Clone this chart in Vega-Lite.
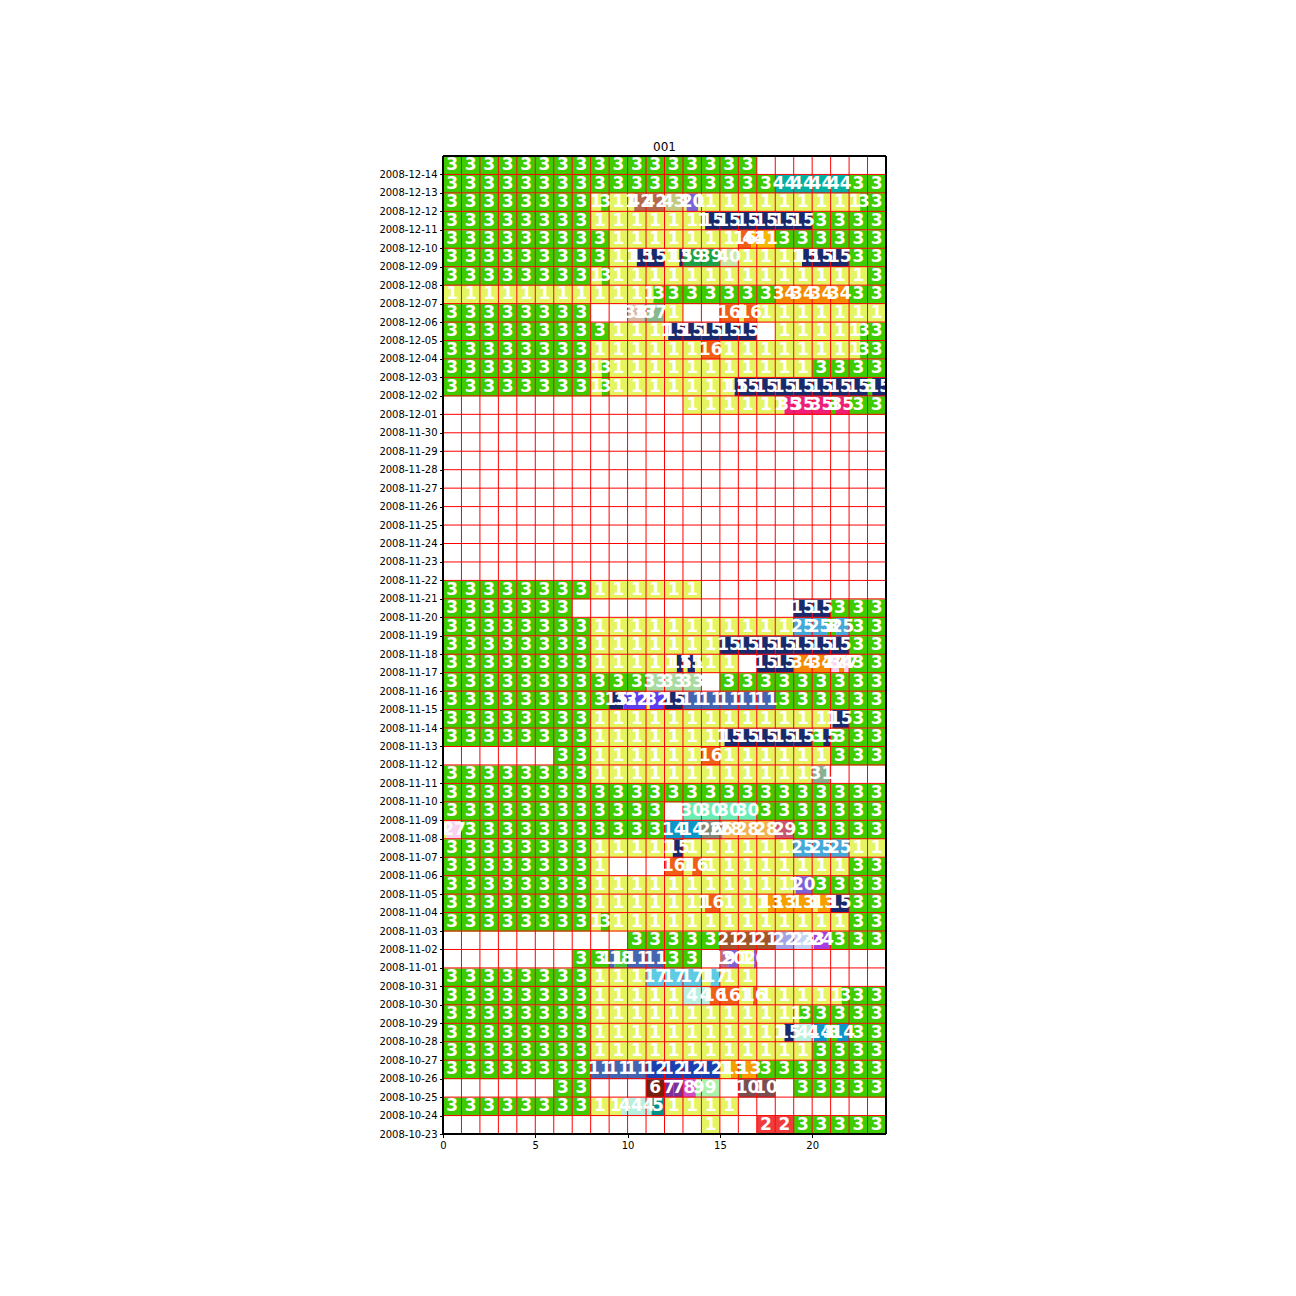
{
"$schema": "https://vega.github.io/schema/vega-lite/v6.json",
"autosize": {"type": "none"},
"padding": {"left": 443, "top": 156, "right": 10, "bottom": 40},
"width": 443,
"height": 978,
"background": "white",
"title": {"text": "001", "font": "DejaVu Sans", "fontSize": 12, "fontWeight": "normal", "color": "#000000", "offset": 4, "dy": 14, "baseline": "bottom", "anchor": "middle", "frame": "group"},
"config": {"view": {"stroke": null}, "font": "DejaVu Sans",
  "axis": {"labelFont": "DejaVu Sans", "labelFontSize": 10, "labelColor": "#000000", "tickColor": "#000000", "tickSize": 3.5, "tickWidth": 1, "domain": false, "grid": false, "labelFlush": false, "labelOverlap": false}},
"datasets": {
"chunks": [
{"d":"2008-12-14","s":0,"e":1,"m":0.5,"c":3},{"d":"2008-12-14","s":1,"e":2,"m":1.5,"c":3},{"d":"2008-12-14","s":2,"e":3,"m":2.5,"c":3},{"d":"2008-12-14","s":3,"e":4,"m":3.5,"c":3},{"d":"2008-12-14","s":4,"e":5,"m":4.5,"c":3},{"d":"2008-12-14","s":5,"e":6,"m":5.5,"c":3},{"d":"2008-12-14","s":6,"e":7,"m":6.5,"c":3},{"d":"2008-12-14","s":7,"e":8,"m":7.5,"c":3},{"d":"2008-12-14","s":8,"e":9,"m":8.5,"c":3},{"d":"2008-12-14","s":9,"e":10,"m":9.5,"c":3},{"d":"2008-12-14","s":10,"e":11,"m":10.5,"c":3},{"d":"2008-12-14","s":11,"e":12,"m":11.5,"c":3},{"d":"2008-12-14","s":12,"e":13,"m":12.5,"c":3},{"d":"2008-12-14","s":13,"e":14,"m":13.5,"c":3},{"d":"2008-12-14","s":14,"e":15,"m":14.5,"c":3},{"d":"2008-12-14","s":15,"e":16,"m":15.5,"c":3},{"d":"2008-12-14","s":16,"e":17,"m":16.5,"c":3},
{"d":"2008-12-13","s":0,"e":1,"m":0.5,"c":3},{"d":"2008-12-13","s":1,"e":2,"m":1.5,"c":3},{"d":"2008-12-13","s":2,"e":3,"m":2.5,"c":3},{"d":"2008-12-13","s":3,"e":4,"m":3.5,"c":3},{"d":"2008-12-13","s":4,"e":5,"m":4.5,"c":3},{"d":"2008-12-13","s":5,"e":6,"m":5.5,"c":3},{"d":"2008-12-13","s":6,"e":7,"m":6.5,"c":3},{"d":"2008-12-13","s":7,"e":8,"m":7.5,"c":3},{"d":"2008-12-13","s":8,"e":9,"m":8.5,"c":3},{"d":"2008-12-13","s":9,"e":10,"m":9.5,"c":3},{"d":"2008-12-13","s":10,"e":11,"m":10.5,"c":3},{"d":"2008-12-13","s":11,"e":12,"m":11.5,"c":3},{"d":"2008-12-13","s":12,"e":13,"m":12.5,"c":3},{"d":"2008-12-13","s":13,"e":14,"m":13.5,"c":3},{"d":"2008-12-13","s":14,"e":15,"m":14.5,"c":3},{"d":"2008-12-13","s":15,"e":16,"m":15.5,"c":3},{"d":"2008-12-13","s":16,"e":17,"m":16.5,"c":3},{"d":"2008-12-13","s":17,"e":18,"m":17.5,"c":3},{"d":"2008-12-13","s":18,"e":19,"m":18.5,"c":44},{"d":"2008-12-13","s":19,"e":20,"m":19.5,"c":44},{"d":"2008-12-13","s":20,"e":21,"m":20.5,"c":44},{"d":"2008-12-13","s":21,"e":22,"m":21.5,"c":44},{"d":"2008-12-13","s":22,"e":23,"m":22.5,"c":3},{"d":"2008-12-13","s":23,"e":24,"m":23.5,"c":3},
{"d":"2008-12-12","s":0,"e":1,"m":0.5,"c":3},{"d":"2008-12-12","s":1,"e":2,"m":1.5,"c":3},{"d":"2008-12-12","s":2,"e":3,"m":2.5,"c":3},{"d":"2008-12-12","s":3,"e":4,"m":3.5,"c":3},{"d":"2008-12-12","s":4,"e":5,"m":4.5,"c":3},{"d":"2008-12-12","s":5,"e":6,"m":5.5,"c":3},{"d":"2008-12-12","s":6,"e":7,"m":6.5,"c":3},{"d":"2008-12-12","s":7,"e":8,"m":7.5,"c":3},{"d":"2008-12-12","s":8,"e":8.57,"m":8.29,"c":1},{"d":"2008-12-12","s":8.57,"e":9,"m":8.79,"c":3},{"d":"2008-12-12","s":9,"e":10,"m":9.5,"c":1},{"d":"2008-12-12","s":10,"e":10.36,"m":10.18,"c":1},{"d":"2008-12-12","s":10.36,"e":11,"m":10.68,"c":42},{"d":"2008-12-12","s":11,"e":12,"m":11.5,"c":42},{"d":"2008-12-12","s":12,"e":13,"m":12.5,"c":43},{"d":"2008-12-12","s":13,"e":13.2,"m":13.1,"c":1},{"d":"2008-12-12","s":13.2,"e":13.83,"m":13.52,"c":20},{"d":"2008-12-12","s":13.83,"e":14,"m":13.92,"c":1},{"d":"2008-12-12","s":14,"e":15,"m":14.5,"c":1},{"d":"2008-12-12","s":15,"e":16,"m":15.5,"c":1},{"d":"2008-12-12","s":16,"e":17,"m":16.5,"c":1},{"d":"2008-12-12","s":17,"e":18,"m":17.5,"c":1},{"d":"2008-12-12","s":18,"e":19,"m":18.5,"c":1},{"d":"2008-12-12","s":19,"e":20,"m":19.5,"c":1},{"d":"2008-12-12","s":20,"e":21,"m":20.5,"c":1},{"d":"2008-12-12","s":21,"e":22,"m":21.5,"c":1},{"d":"2008-12-12","s":22,"e":22.6,"m":22.3,"c":1},{"d":"2008-12-12","s":22.6,"e":23,"m":22.8,"c":3},{"d":"2008-12-12","s":23,"e":24,"m":23.5,"c":3},
{"d":"2008-12-11","s":0,"e":1,"m":0.5,"c":3},{"d":"2008-12-11","s":1,"e":2,"m":1.5,"c":3},{"d":"2008-12-11","s":2,"e":3,"m":2.5,"c":3},{"d":"2008-12-11","s":3,"e":4,"m":3.5,"c":3},{"d":"2008-12-11","s":4,"e":5,"m":4.5,"c":3},{"d":"2008-12-11","s":5,"e":6,"m":5.5,"c":3},{"d":"2008-12-11","s":6,"e":7,"m":6.5,"c":3},{"d":"2008-12-11","s":7,"e":8,"m":7.5,"c":3},{"d":"2008-12-11","s":8,"e":9,"m":8.5,"c":1},{"d":"2008-12-11","s":9,"e":10,"m":9.5,"c":1},{"d":"2008-12-11","s":10,"e":11,"m":10.5,"c":1},{"d":"2008-12-11","s":11,"e":12,"m":11.5,"c":1},{"d":"2008-12-11","s":12,"e":13,"m":12.5,"c":1},{"d":"2008-12-11","s":13,"e":14,"m":13.5,"c":1},{"d":"2008-12-11","s":14,"e":14.2,"m":14.1,"c":1},{"d":"2008-12-11","s":14.2,"e":15,"m":14.6,"c":15},{"d":"2008-12-11","s":15,"e":16,"m":15.5,"c":15},{"d":"2008-12-11","s":16,"e":17,"m":16.5,"c":15},{"d":"2008-12-11","s":17,"e":18,"m":17.5,"c":15},{"d":"2008-12-11","s":18,"e":19,"m":18.5,"c":15},{"d":"2008-12-11","s":19,"e":20,"m":19.5,"c":15},{"d":"2008-12-11","s":20,"e":21,"m":20.5,"c":3},{"d":"2008-12-11","s":21,"e":22,"m":21.5,"c":3},{"d":"2008-12-11","s":22,"e":23,"m":22.5,"c":3},{"d":"2008-12-11","s":23,"e":24,"m":23.5,"c":3},
{"d":"2008-12-10","s":0,"e":1,"m":0.5,"c":3},{"d":"2008-12-10","s":1,"e":2,"m":1.5,"c":3},{"d":"2008-12-10","s":2,"e":3,"m":2.5,"c":3},{"d":"2008-12-10","s":3,"e":4,"m":3.5,"c":3},{"d":"2008-12-10","s":4,"e":5,"m":4.5,"c":3},{"d":"2008-12-10","s":5,"e":6,"m":5.5,"c":3},{"d":"2008-12-10","s":6,"e":7,"m":6.5,"c":3},{"d":"2008-12-10","s":7,"e":8,"m":7.5,"c":3},{"d":"2008-12-10","s":8,"e":9,"m":8.5,"c":3},{"d":"2008-12-10","s":9,"e":10,"m":9.5,"c":1},{"d":"2008-12-10","s":10,"e":11,"m":10.5,"c":1},{"d":"2008-12-10","s":11,"e":12,"m":11.5,"c":1},{"d":"2008-12-10","s":12,"e":13,"m":12.5,"c":1},{"d":"2008-12-10","s":13,"e":14,"m":13.5,"c":1},{"d":"2008-12-10","s":14,"e":15,"m":14.5,"c":1},{"d":"2008-12-10","s":15,"e":16,"m":15.5,"c":1},{"d":"2008-12-10","s":16,"e":16.7,"m":16.35,"c":16},{"d":"2008-12-10","s":16.7,"e":17,"m":16.85,"c":41},{"d":"2008-12-10","s":17,"e":18,"m":17.5,"c":41},{"d":"2008-12-10","s":18,"e":19,"m":18.5,"c":3},{"d":"2008-12-10","s":19,"e":20,"m":19.5,"c":3},{"d":"2008-12-10","s":20,"e":21,"m":20.5,"c":3},{"d":"2008-12-10","s":21,"e":22,"m":21.5,"c":3},{"d":"2008-12-10","s":22,"e":23,"m":22.5,"c":3},{"d":"2008-12-10","s":23,"e":24,"m":23.5,"c":3},
{"d":"2008-12-09","s":0,"e":1,"m":0.5,"c":3},{"d":"2008-12-09","s":1,"e":2,"m":1.5,"c":3},{"d":"2008-12-09","s":2,"e":3,"m":2.5,"c":3},{"d":"2008-12-09","s":3,"e":4,"m":3.5,"c":3},{"d":"2008-12-09","s":4,"e":5,"m":4.5,"c":3},{"d":"2008-12-09","s":5,"e":6,"m":5.5,"c":3},{"d":"2008-12-09","s":6,"e":7,"m":6.5,"c":3},{"d":"2008-12-09","s":7,"e":8,"m":7.5,"c":3},{"d":"2008-12-09","s":8,"e":9,"m":8.5,"c":3},{"d":"2008-12-09","s":9,"e":10,"m":9.5,"c":1},{"d":"2008-12-09","s":10,"e":10.5,"m":10.25,"c":1},{"d":"2008-12-09","s":10.5,"e":11,"m":10.75,"c":15},{"d":"2008-12-09","s":11,"e":12,"m":11.5,"c":15},{"d":"2008-12-09","s":12,"e":12.8,"m":12.4,"c":1},{"d":"2008-12-09","s":12.8,"e":13,"m":12.9,"c":15},{"d":"2008-12-09","s":13,"e":14,"m":13.5,"c":39},{"d":"2008-12-09","s":14,"e":15,"m":14.5,"c":39},{"d":"2008-12-09","s":15,"e":16,"m":15.5,"c":40},{"d":"2008-12-09","s":16,"e":17,"m":16.5,"c":1},{"d":"2008-12-09","s":17,"e":18,"m":17.5,"c":1},{"d":"2008-12-09","s":18,"e":19,"m":18.5,"c":1},{"d":"2008-12-09","s":19,"e":19.45,"m":19.23,"c":1},{"d":"2008-12-09","s":19.45,"e":20,"m":19.73,"c":15},{"d":"2008-12-09","s":20,"e":21,"m":20.5,"c":15},{"d":"2008-12-09","s":21,"e":22,"m":21.5,"c":15},{"d":"2008-12-09","s":22,"e":23,"m":22.5,"c":3},{"d":"2008-12-09","s":23,"e":24,"m":23.5,"c":3},
{"d":"2008-12-08","s":0,"e":1,"m":0.5,"c":3},{"d":"2008-12-08","s":1,"e":2,"m":1.5,"c":3},{"d":"2008-12-08","s":2,"e":3,"m":2.5,"c":3},{"d":"2008-12-08","s":3,"e":4,"m":3.5,"c":3},{"d":"2008-12-08","s":4,"e":5,"m":4.5,"c":3},{"d":"2008-12-08","s":5,"e":6,"m":5.5,"c":3},{"d":"2008-12-08","s":6,"e":7,"m":6.5,"c":3},{"d":"2008-12-08","s":7,"e":8,"m":7.5,"c":3},{"d":"2008-12-08","s":8,"e":8.6,"m":8.3,"c":1},{"d":"2008-12-08","s":8.6,"e":9,"m":8.8,"c":3},{"d":"2008-12-08","s":9,"e":10,"m":9.5,"c":1},{"d":"2008-12-08","s":10,"e":11,"m":10.5,"c":1},{"d":"2008-12-08","s":11,"e":12,"m":11.5,"c":1},{"d":"2008-12-08","s":12,"e":13,"m":12.5,"c":1},{"d":"2008-12-08","s":13,"e":14,"m":13.5,"c":1},{"d":"2008-12-08","s":14,"e":15,"m":14.5,"c":1},{"d":"2008-12-08","s":15,"e":16,"m":15.5,"c":1},{"d":"2008-12-08","s":16,"e":17,"m":16.5,"c":1},{"d":"2008-12-08","s":17,"e":18,"m":17.5,"c":1},{"d":"2008-12-08","s":18,"e":19,"m":18.5,"c":1},{"d":"2008-12-08","s":19,"e":20,"m":19.5,"c":1},{"d":"2008-12-08","s":20,"e":21,"m":20.5,"c":1},{"d":"2008-12-08","s":21,"e":22,"m":21.5,"c":1},{"d":"2008-12-08","s":22,"e":23,"m":22.5,"c":1},{"d":"2008-12-08","s":23,"e":24,"m":23.5,"c":3},
{"d":"2008-12-07","s":0,"e":1,"m":0.5,"c":1},{"d":"2008-12-07","s":1,"e":2,"m":1.5,"c":1},{"d":"2008-12-07","s":2,"e":3,"m":2.5,"c":1},{"d":"2008-12-07","s":3,"e":4,"m":3.5,"c":1},{"d":"2008-12-07","s":4,"e":5,"m":4.5,"c":1},{"d":"2008-12-07","s":5,"e":6,"m":5.5,"c":1},{"d":"2008-12-07","s":6,"e":7,"m":6.5,"c":1},{"d":"2008-12-07","s":7,"e":8,"m":7.5,"c":1},{"d":"2008-12-07","s":8,"e":9,"m":8.5,"c":1},{"d":"2008-12-07","s":9,"e":10,"m":9.5,"c":1},{"d":"2008-12-07","s":10,"e":11,"m":10.5,"c":1},{"d":"2008-12-07","s":11,"e":11.4,"m":11.2,"c":1},{"d":"2008-12-07","s":11.4,"e":12,"m":11.7,"c":3},{"d":"2008-12-07","s":12,"e":13,"m":12.5,"c":3},{"d":"2008-12-07","s":13,"e":14,"m":13.5,"c":3},{"d":"2008-12-07","s":14,"e":15,"m":14.5,"c":3},{"d":"2008-12-07","s":15,"e":16,"m":15.5,"c":3},{"d":"2008-12-07","s":16,"e":17,"m":16.5,"c":3},{"d":"2008-12-07","s":17,"e":18,"m":17.5,"c":3},{"d":"2008-12-07","s":18,"e":19,"m":18.5,"c":34},{"d":"2008-12-07","s":19,"e":20,"m":19.5,"c":34},{"d":"2008-12-07","s":20,"e":21,"m":20.5,"c":34},{"d":"2008-12-07","s":21,"e":22,"m":21.5,"c":34},{"d":"2008-12-07","s":22,"e":23,"m":22.5,"c":3},{"d":"2008-12-07","s":23,"e":24,"m":23.5,"c":3},
{"d":"2008-12-06","s":0,"e":1,"m":0.5,"c":3},{"d":"2008-12-06","s":1,"e":2,"m":1.5,"c":3},{"d":"2008-12-06","s":2,"e":3,"m":2.5,"c":3},{"d":"2008-12-06","s":3,"e":4,"m":3.5,"c":3},{"d":"2008-12-06","s":4,"e":5,"m":4.5,"c":3},{"d":"2008-12-06","s":5,"e":6,"m":5.5,"c":3},{"d":"2008-12-06","s":6,"e":7,"m":6.5,"c":3},{"d":"2008-12-06","s":7,"e":8,"m":7.5,"c":3},{"d":"2008-12-06","s":10,"e":10.9,"m":10.45,"c":38},{"d":"2008-12-06","s":10.9,"e":11,"m":10.95,"c":37},{"d":"2008-12-06","s":11,"e":12,"m":11.5,"c":37},{"d":"2008-12-06","s":12,"e":13,"m":12.5,"c":1},{"d":"2008-12-06","s":15,"e":16,"m":15.5,"c":16},{"d":"2008-12-06","s":16,"e":16.3,"m":16.15,"c":1},{"d":"2008-12-06","s":16.3,"e":17,"m":16.65,"c":16},{"d":"2008-12-06","s":17,"e":18,"m":17.5,"c":1},{"d":"2008-12-06","s":18,"e":19,"m":18.5,"c":1},{"d":"2008-12-06","s":19,"e":20,"m":19.5,"c":1},{"d":"2008-12-06","s":20,"e":21,"m":20.5,"c":1},{"d":"2008-12-06","s":21,"e":22,"m":21.5,"c":1},{"d":"2008-12-06","s":22,"e":23,"m":22.5,"c":1},{"d":"2008-12-06","s":23,"e":24,"m":23.5,"c":1},
{"d":"2008-12-05","s":0,"e":1,"m":0.5,"c":3},{"d":"2008-12-05","s":1,"e":2,"m":1.5,"c":3},{"d":"2008-12-05","s":2,"e":3,"m":2.5,"c":3},{"d":"2008-12-05","s":3,"e":4,"m":3.5,"c":3},{"d":"2008-12-05","s":4,"e":5,"m":4.5,"c":3},{"d":"2008-12-05","s":5,"e":6,"m":5.5,"c":3},{"d":"2008-12-05","s":6,"e":7,"m":6.5,"c":3},{"d":"2008-12-05","s":7,"e":8,"m":7.5,"c":3},{"d":"2008-12-05","s":8,"e":9,"m":8.5,"c":3},{"d":"2008-12-05","s":9,"e":10,"m":9.5,"c":1},{"d":"2008-12-05","s":10,"e":11,"m":10.5,"c":1},{"d":"2008-12-05","s":11,"e":12,"m":11.5,"c":1},{"d":"2008-12-05","s":12,"e":12.2,"m":12.1,"c":1},{"d":"2008-12-05","s":12.2,"e":13,"m":12.6,"c":15},{"d":"2008-12-05","s":13,"e":14,"m":13.5,"c":15},{"d":"2008-12-05","s":14,"e":15,"m":14.5,"c":15},{"d":"2008-12-05","s":15,"e":16,"m":15.5,"c":15},{"d":"2008-12-05","s":16,"e":17,"m":16.5,"c":15},{"d":"2008-12-05","s":18,"e":19,"m":18.5,"c":1},{"d":"2008-12-05","s":19,"e":20,"m":19.5,"c":1},{"d":"2008-12-05","s":20,"e":21,"m":20.5,"c":1},{"d":"2008-12-05","s":21,"e":22,"m":21.5,"c":1},{"d":"2008-12-05","s":22,"e":22.6,"m":22.3,"c":1},{"d":"2008-12-05","s":22.6,"e":23,"m":22.8,"c":3},{"d":"2008-12-05","s":23,"e":24,"m":23.5,"c":3},
{"d":"2008-12-04","s":0,"e":1,"m":0.5,"c":3},{"d":"2008-12-04","s":1,"e":2,"m":1.5,"c":3},{"d":"2008-12-04","s":2,"e":3,"m":2.5,"c":3},{"d":"2008-12-04","s":3,"e":4,"m":3.5,"c":3},{"d":"2008-12-04","s":4,"e":5,"m":4.5,"c":3},{"d":"2008-12-04","s":5,"e":6,"m":5.5,"c":3},{"d":"2008-12-04","s":6,"e":7,"m":6.5,"c":3},{"d":"2008-12-04","s":7,"e":8,"m":7.5,"c":3},{"d":"2008-12-04","s":8,"e":9,"m":8.5,"c":1},{"d":"2008-12-04","s":9,"e":10,"m":9.5,"c":1},{"d":"2008-12-04","s":10,"e":11,"m":10.5,"c":1},{"d":"2008-12-04","s":11,"e":12,"m":11.5,"c":1},{"d":"2008-12-04","s":12,"e":13,"m":12.5,"c":1},{"d":"2008-12-04","s":13,"e":14,"m":13.5,"c":1},{"d":"2008-12-04","s":14,"e":15,"m":14.5,"c":16},{"d":"2008-12-04","s":15,"e":16,"m":15.5,"c":1},{"d":"2008-12-04","s":16,"e":17,"m":16.5,"c":1},{"d":"2008-12-04","s":17,"e":18,"m":17.5,"c":1},{"d":"2008-12-04","s":18,"e":19,"m":18.5,"c":1},{"d":"2008-12-04","s":19,"e":20,"m":19.5,"c":1},{"d":"2008-12-04","s":20,"e":21,"m":20.5,"c":1},{"d":"2008-12-04","s":21,"e":22,"m":21.5,"c":1},{"d":"2008-12-04","s":22,"e":22.6,"m":22.3,"c":1},{"d":"2008-12-04","s":22.6,"e":23,"m":22.8,"c":3},{"d":"2008-12-04","s":23,"e":24,"m":23.5,"c":3},
{"d":"2008-12-03","s":0,"e":1,"m":0.5,"c":3},{"d":"2008-12-03","s":1,"e":2,"m":1.5,"c":3},{"d":"2008-12-03","s":2,"e":3,"m":2.5,"c":3},{"d":"2008-12-03","s":3,"e":4,"m":3.5,"c":3},{"d":"2008-12-03","s":4,"e":5,"m":4.5,"c":3},{"d":"2008-12-03","s":5,"e":6,"m":5.5,"c":3},{"d":"2008-12-03","s":6,"e":7,"m":6.5,"c":3},{"d":"2008-12-03","s":7,"e":8,"m":7.5,"c":3},{"d":"2008-12-03","s":8,"e":8.6,"m":8.3,"c":1},{"d":"2008-12-03","s":8.6,"e":9,"m":8.8,"c":3},{"d":"2008-12-03","s":9,"e":10,"m":9.5,"c":1},{"d":"2008-12-03","s":10,"e":11,"m":10.5,"c":1},{"d":"2008-12-03","s":11,"e":12,"m":11.5,"c":1},{"d":"2008-12-03","s":12,"e":13,"m":12.5,"c":1},{"d":"2008-12-03","s":13,"e":14,"m":13.5,"c":1},{"d":"2008-12-03","s":14,"e":15,"m":14.5,"c":1},{"d":"2008-12-03","s":15,"e":16,"m":15.5,"c":1},{"d":"2008-12-03","s":16,"e":17,"m":16.5,"c":1},{"d":"2008-12-03","s":17,"e":18,"m":17.5,"c":1},{"d":"2008-12-03","s":18,"e":19,"m":18.5,"c":1},{"d":"2008-12-03","s":19,"e":20,"m":19.5,"c":1},{"d":"2008-12-03","s":20,"e":21,"m":20.5,"c":3},{"d":"2008-12-03","s":21,"e":22,"m":21.5,"c":3},{"d":"2008-12-03","s":22,"e":23,"m":22.5,"c":3},{"d":"2008-12-03","s":23,"e":24,"m":23.5,"c":3},
{"d":"2008-12-02","s":0,"e":1,"m":0.5,"c":3},{"d":"2008-12-02","s":1,"e":2,"m":1.5,"c":3},{"d":"2008-12-02","s":2,"e":3,"m":2.5,"c":3},{"d":"2008-12-02","s":3,"e":4,"m":3.5,"c":3},{"d":"2008-12-02","s":4,"e":5,"m":4.5,"c":3},{"d":"2008-12-02","s":5,"e":6,"m":5.5,"c":3},{"d":"2008-12-02","s":6,"e":7,"m":6.5,"c":3},{"d":"2008-12-02","s":7,"e":8,"m":7.5,"c":3},{"d":"2008-12-02","s":8,"e":8.6,"m":8.3,"c":1},{"d":"2008-12-02","s":8.6,"e":9,"m":8.8,"c":3},{"d":"2008-12-02","s":9,"e":10,"m":9.5,"c":1},{"d":"2008-12-02","s":10,"e":11,"m":10.5,"c":1},{"d":"2008-12-02","s":11,"e":12,"m":11.5,"c":1},{"d":"2008-12-02","s":12,"e":13,"m":12.5,"c":1},{"d":"2008-12-02","s":13,"e":14,"m":13.5,"c":1},{"d":"2008-12-02","s":14,"e":15,"m":14.5,"c":1},{"d":"2008-12-02","s":15,"e":15.8,"m":15.4,"c":1},{"d":"2008-12-02","s":15.8,"e":16,"m":15.9,"c":15},{"d":"2008-12-02","s":16,"e":17,"m":16.5,"c":15},{"d":"2008-12-02","s":17,"e":18,"m":17.5,"c":15},{"d":"2008-12-02","s":18,"e":19,"m":18.5,"c":15},{"d":"2008-12-02","s":19,"e":20,"m":19.5,"c":15},{"d":"2008-12-02","s":20,"e":21,"m":20.5,"c":15},{"d":"2008-12-02","s":21,"e":22,"m":21.5,"c":15},{"d":"2008-12-02","s":22,"e":23,"m":22.5,"c":15},{"d":"2008-12-02","s":23,"e":23.25,"m":23.13,"c":3},{"d":"2008-12-02","s":23.25,"e":24,"m":23.63,"c":15},
{"d":"2008-12-01","s":13,"e":14,"m":13.5,"c":1},{"d":"2008-12-01","s":14,"e":15,"m":14.5,"c":1},{"d":"2008-12-01","s":15,"e":16,"m":15.5,"c":1},{"d":"2008-12-01","s":16,"e":17,"m":16.5,"c":1},{"d":"2008-12-01","s":17,"e":18,"m":17.5,"c":1},{"d":"2008-12-01","s":18,"e":18.5,"m":18.25,"c":1},{"d":"2008-12-01","s":18.5,"e":19,"m":18.75,"c":35},{"d":"2008-12-01","s":19,"e":20,"m":19.5,"c":35},{"d":"2008-12-01","s":20,"e":21,"m":20.5,"c":35},{"d":"2008-12-01","s":21,"e":21.25,"m":21.13,"c":3},{"d":"2008-12-01","s":21.25,"e":22,"m":21.63,"c":35},{"d":"2008-12-01","s":22,"e":23,"m":22.5,"c":3},{"d":"2008-12-01","s":23,"e":24,"m":23.5,"c":3},
{"d":"2008-11-21","s":0,"e":1,"m":0.5,"c":3},{"d":"2008-11-21","s":1,"e":2,"m":1.5,"c":3},{"d":"2008-11-21","s":2,"e":3,"m":2.5,"c":3},{"d":"2008-11-21","s":3,"e":4,"m":3.5,"c":3},{"d":"2008-11-21","s":4,"e":5,"m":4.5,"c":3},{"d":"2008-11-21","s":5,"e":6,"m":5.5,"c":3},{"d":"2008-11-21","s":6,"e":7,"m":6.5,"c":3},{"d":"2008-11-21","s":7,"e":8,"m":7.5,"c":3},{"d":"2008-11-21","s":8,"e":9,"m":8.5,"c":1},{"d":"2008-11-21","s":9,"e":10,"m":9.5,"c":1},{"d":"2008-11-21","s":10,"e":11,"m":10.5,"c":1},{"d":"2008-11-21","s":11,"e":12,"m":11.5,"c":1},{"d":"2008-11-21","s":12,"e":13,"m":12.5,"c":1},{"d":"2008-11-21","s":13,"e":14,"m":13.5,"c":1},
{"d":"2008-11-20","s":0,"e":1,"m":0.5,"c":3},{"d":"2008-11-20","s":1,"e":2,"m":1.5,"c":3},{"d":"2008-11-20","s":2,"e":3,"m":2.5,"c":3},{"d":"2008-11-20","s":3,"e":4,"m":3.5,"c":3},{"d":"2008-11-20","s":4,"e":5,"m":4.5,"c":3},{"d":"2008-11-20","s":5,"e":6,"m":5.5,"c":3},{"d":"2008-11-20","s":6,"e":7,"m":6.5,"c":3},{"d":"2008-11-20","s":19,"e":20,"m":19.5,"c":15},{"d":"2008-11-20","s":20,"e":21,"m":20.5,"c":15},{"d":"2008-11-20","s":21,"e":22,"m":21.5,"c":3},{"d":"2008-11-20","s":22,"e":23,"m":22.5,"c":3},{"d":"2008-11-20","s":23,"e":24,"m":23.5,"c":3},
{"d":"2008-11-19","s":0,"e":1,"m":0.5,"c":3},{"d":"2008-11-19","s":1,"e":2,"m":1.5,"c":3},{"d":"2008-11-19","s":2,"e":3,"m":2.5,"c":3},{"d":"2008-11-19","s":3,"e":4,"m":3.5,"c":3},{"d":"2008-11-19","s":4,"e":5,"m":4.5,"c":3},{"d":"2008-11-19","s":5,"e":6,"m":5.5,"c":3},{"d":"2008-11-19","s":6,"e":7,"m":6.5,"c":3},{"d":"2008-11-19","s":7,"e":8,"m":7.5,"c":3},{"d":"2008-11-19","s":8,"e":9,"m":8.5,"c":1},{"d":"2008-11-19","s":9,"e":10,"m":9.5,"c":1},{"d":"2008-11-19","s":10,"e":11,"m":10.5,"c":1},{"d":"2008-11-19","s":11,"e":12,"m":11.5,"c":1},{"d":"2008-11-19","s":12,"e":13,"m":12.5,"c":1},{"d":"2008-11-19","s":13,"e":14,"m":13.5,"c":1},{"d":"2008-11-19","s":14,"e":15,"m":14.5,"c":1},{"d":"2008-11-19","s":15,"e":16,"m":15.5,"c":1},{"d":"2008-11-19","s":16,"e":17,"m":16.5,"c":1},{"d":"2008-11-19","s":17,"e":18,"m":17.5,"c":1},{"d":"2008-11-19","s":18,"e":19,"m":18.5,"c":1},{"d":"2008-11-19","s":19,"e":20,"m":19.5,"c":25},{"d":"2008-11-19","s":20,"e":20.8,"m":20.4,"c":25},{"d":"2008-11-19","s":20.8,"e":21,"m":20.9,"c":3},{"d":"2008-11-19","s":21,"e":21.3,"m":21.15,"c":3},{"d":"2008-11-19","s":21.3,"e":22,"m":21.65,"c":25},{"d":"2008-11-19","s":22,"e":23,"m":22.5,"c":3},{"d":"2008-11-19","s":23,"e":24,"m":23.5,"c":3},
{"d":"2008-11-18","s":0,"e":1,"m":0.5,"c":3},{"d":"2008-11-18","s":1,"e":2,"m":1.5,"c":3},{"d":"2008-11-18","s":2,"e":3,"m":2.5,"c":3},{"d":"2008-11-18","s":3,"e":4,"m":3.5,"c":3},{"d":"2008-11-18","s":4,"e":5,"m":4.5,"c":3},{"d":"2008-11-18","s":5,"e":6,"m":5.5,"c":3},{"d":"2008-11-18","s":6,"e":7,"m":6.5,"c":3},{"d":"2008-11-18","s":7,"e":8,"m":7.5,"c":3},{"d":"2008-11-18","s":8,"e":9,"m":8.5,"c":1},{"d":"2008-11-18","s":9,"e":10,"m":9.5,"c":1},{"d":"2008-11-18","s":10,"e":11,"m":10.5,"c":1},{"d":"2008-11-18","s":11,"e":12,"m":11.5,"c":1},{"d":"2008-11-18","s":12,"e":13,"m":12.5,"c":1},{"d":"2008-11-18","s":13,"e":14,"m":13.5,"c":1},{"d":"2008-11-18","s":14,"e":15,"m":14.5,"c":1},{"d":"2008-11-18","s":15,"e":16,"m":15.5,"c":15},{"d":"2008-11-18","s":16,"e":17,"m":16.5,"c":15},{"d":"2008-11-18","s":17,"e":18,"m":17.5,"c":15},{"d":"2008-11-18","s":18,"e":19,"m":18.5,"c":15},{"d":"2008-11-18","s":19,"e":20,"m":19.5,"c":15},{"d":"2008-11-18","s":20,"e":21,"m":20.5,"c":15},{"d":"2008-11-18","s":21,"e":22,"m":21.5,"c":15},{"d":"2008-11-18","s":22,"e":23,"m":22.5,"c":3},{"d":"2008-11-18","s":23,"e":24,"m":23.5,"c":3},
{"d":"2008-11-17","s":0,"e":1,"m":0.5,"c":3},{"d":"2008-11-17","s":1,"e":2,"m":1.5,"c":3},{"d":"2008-11-17","s":2,"e":3,"m":2.5,"c":3},{"d":"2008-11-17","s":3,"e":4,"m":3.5,"c":3},{"d":"2008-11-17","s":4,"e":5,"m":4.5,"c":3},{"d":"2008-11-17","s":5,"e":6,"m":5.5,"c":3},{"d":"2008-11-17","s":6,"e":7,"m":6.5,"c":3},{"d":"2008-11-17","s":7,"e":8,"m":7.5,"c":3},{"d":"2008-11-17","s":8,"e":9,"m":8.5,"c":1},{"d":"2008-11-17","s":9,"e":10,"m":9.5,"c":1},{"d":"2008-11-17","s":10,"e":11,"m":10.5,"c":1},{"d":"2008-11-17","s":11,"e":12,"m":11.5,"c":1},{"d":"2008-11-17","s":12,"e":12.67,"m":12.34,"c":1},{"d":"2008-11-17","s":12.67,"e":13,"m":12.84,"c":15},{"d":"2008-11-17","s":13,"e":13.25,"m":13.13,"c":1},{"d":"2008-11-17","s":13.25,"e":13.65,"m":13.45,"c":15},{"d":"2008-11-17","s":13.65,"e":14,"m":13.83,"c":1},{"d":"2008-11-17","s":14,"e":15,"m":14.5,"c":1},{"d":"2008-11-17","s":15,"e":16,"m":15.5,"c":1},{"d":"2008-11-17","s":17,"e":18,"m":17.5,"c":15},{"d":"2008-11-17","s":18,"e":19,"m":18.5,"c":15},{"d":"2008-11-17","s":19,"e":20,"m":19.5,"c":34},{"d":"2008-11-17","s":20,"e":21,"m":20.5,"c":34},{"d":"2008-11-17","s":21,"e":21.45,"m":21.23,"c":27},{"d":"2008-11-17","s":21.45,"e":21.75,"m":21.6,"c":34},{"d":"2008-11-17","s":21.75,"e":22,"m":21.88,"c":27},{"d":"2008-11-17","s":22,"e":23,"m":22.5,"c":3},{"d":"2008-11-17","s":23,"e":24,"m":23.5,"c":3},
{"d":"2008-11-16","s":0,"e":1,"m":0.5,"c":3},{"d":"2008-11-16","s":1,"e":2,"m":1.5,"c":3},{"d":"2008-11-16","s":2,"e":3,"m":2.5,"c":3},{"d":"2008-11-16","s":3,"e":4,"m":3.5,"c":3},{"d":"2008-11-16","s":4,"e":5,"m":4.5,"c":3},{"d":"2008-11-16","s":5,"e":6,"m":5.5,"c":3},{"d":"2008-11-16","s":6,"e":7,"m":6.5,"c":3},{"d":"2008-11-16","s":7,"e":8,"m":7.5,"c":3},{"d":"2008-11-16","s":8,"e":9,"m":8.5,"c":3},{"d":"2008-11-16","s":9,"e":10,"m":9.5,"c":3},{"d":"2008-11-16","s":10,"e":11,"m":10.5,"c":3},{"d":"2008-11-16","s":11,"e":12,"m":11.5,"c":33},{"d":"2008-11-16","s":12,"e":13,"m":12.5,"c":33},{"d":"2008-11-16","s":13,"e":14,"m":13.5,"c":33},{"d":"2008-11-16","s":15,"e":16,"m":15.5,"c":3},{"d":"2008-11-16","s":16,"e":17,"m":16.5,"c":3},{"d":"2008-11-16","s":17,"e":18,"m":17.5,"c":3},{"d":"2008-11-16","s":18,"e":19,"m":18.5,"c":3},{"d":"2008-11-16","s":19,"e":20,"m":19.5,"c":3},{"d":"2008-11-16","s":20,"e":21,"m":20.5,"c":3},{"d":"2008-11-16","s":21,"e":22,"m":21.5,"c":3},{"d":"2008-11-16","s":22,"e":23,"m":22.5,"c":3},{"d":"2008-11-16","s":23,"e":24,"m":23.5,"c":3},
{"d":"2008-11-15","s":0,"e":1,"m":0.5,"c":3},{"d":"2008-11-15","s":1,"e":2,"m":1.5,"c":3},{"d":"2008-11-15","s":2,"e":3,"m":2.5,"c":3},{"d":"2008-11-15","s":3,"e":4,"m":3.5,"c":3},{"d":"2008-11-15","s":4,"e":5,"m":4.5,"c":3},{"d":"2008-11-15","s":5,"e":6,"m":5.5,"c":3},{"d":"2008-11-15","s":6,"e":7,"m":6.5,"c":3},{"d":"2008-11-15","s":7,"e":8,"m":7.5,"c":3},{"d":"2008-11-15","s":8,"e":9,"m":8.5,"c":3},{"d":"2008-11-15","s":9,"e":9.78,"m":9.39,"c":15},{"d":"2008-11-15","s":9.78,"e":10,"m":9.89,"c":32},{"d":"2008-11-15","s":10,"e":11,"m":10.5,"c":32},{"d":"2008-11-15","s":11,"e":11.2,"m":11.1,"c":1},{"d":"2008-11-15","s":11.2,"e":12,"m":11.6,"c":32},{"d":"2008-11-15","s":12,"e":13,"m":12.5,"c":15},{"d":"2008-11-15","s":13,"e":14,"m":13.5,"c":11},{"d":"2008-11-15","s":14,"e":15,"m":14.5,"c":11},{"d":"2008-11-15","s":15,"e":16,"m":15.5,"c":11},{"d":"2008-11-15","s":16,"e":17,"m":16.5,"c":11},{"d":"2008-11-15","s":17,"e":18,"m":17.5,"c":11},{"d":"2008-11-15","s":18,"e":19,"m":18.5,"c":3},{"d":"2008-11-15","s":19,"e":20,"m":19.5,"c":3},{"d":"2008-11-15","s":20,"e":21,"m":20.5,"c":3},{"d":"2008-11-15","s":21,"e":22,"m":21.5,"c":3},{"d":"2008-11-15","s":22,"e":23,"m":22.5,"c":3},{"d":"2008-11-15","s":23,"e":24,"m":23.5,"c":3},
{"d":"2008-11-14","s":0,"e":1,"m":0.5,"c":3},{"d":"2008-11-14","s":1,"e":2,"m":1.5,"c":3},{"d":"2008-11-14","s":2,"e":3,"m":2.5,"c":3},{"d":"2008-11-14","s":3,"e":4,"m":3.5,"c":3},{"d":"2008-11-14","s":4,"e":5,"m":4.5,"c":3},{"d":"2008-11-14","s":5,"e":6,"m":5.5,"c":3},{"d":"2008-11-14","s":6,"e":7,"m":6.5,"c":3},{"d":"2008-11-14","s":7,"e":8,"m":7.5,"c":3},{"d":"2008-11-14","s":8,"e":9,"m":8.5,"c":1},{"d":"2008-11-14","s":9,"e":10,"m":9.5,"c":1},{"d":"2008-11-14","s":10,"e":11,"m":10.5,"c":1},{"d":"2008-11-14","s":11,"e":12,"m":11.5,"c":1},{"d":"2008-11-14","s":12,"e":13,"m":12.5,"c":1},{"d":"2008-11-14","s":13,"e":14,"m":13.5,"c":1},{"d":"2008-11-14","s":14,"e":15,"m":14.5,"c":1},{"d":"2008-11-14","s":15,"e":16,"m":15.5,"c":1},{"d":"2008-11-14","s":16,"e":17,"m":16.5,"c":1},{"d":"2008-11-14","s":17,"e":18,"m":17.5,"c":1},{"d":"2008-11-14","s":18,"e":19,"m":18.5,"c":1},{"d":"2008-11-14","s":19,"e":20,"m":19.5,"c":1},{"d":"2008-11-14","s":20,"e":21,"m":20.5,"c":1},{"d":"2008-11-14","s":21,"e":21.1,"m":21.05,"c":1},{"d":"2008-11-14","s":21.1,"e":22,"m":21.55,"c":15},{"d":"2008-11-14","s":22,"e":23,"m":22.5,"c":3},{"d":"2008-11-14","s":23,"e":24,"m":23.5,"c":3},
{"d":"2008-11-13","s":0,"e":1,"m":0.5,"c":3},{"d":"2008-11-13","s":1,"e":2,"m":1.5,"c":3},{"d":"2008-11-13","s":2,"e":3,"m":2.5,"c":3},{"d":"2008-11-13","s":3,"e":4,"m":3.5,"c":3},{"d":"2008-11-13","s":4,"e":5,"m":4.5,"c":3},{"d":"2008-11-13","s":5,"e":6,"m":5.5,"c":3},{"d":"2008-11-13","s":6,"e":7,"m":6.5,"c":3},{"d":"2008-11-13","s":7,"e":8,"m":7.5,"c":3},{"d":"2008-11-13","s":8,"e":9,"m":8.5,"c":1},{"d":"2008-11-13","s":9,"e":10,"m":9.5,"c":1},{"d":"2008-11-13","s":10,"e":11,"m":10.5,"c":1},{"d":"2008-11-13","s":11,"e":12,"m":11.5,"c":1},{"d":"2008-11-13","s":12,"e":13,"m":12.5,"c":1},{"d":"2008-11-13","s":13,"e":14,"m":13.5,"c":1},{"d":"2008-11-13","s":14,"e":15,"m":14.5,"c":1},{"d":"2008-11-13","s":15,"e":15.25,"m":15.13,"c":1},{"d":"2008-11-13","s":15.25,"e":16,"m":15.63,"c":15},{"d":"2008-11-13","s":16,"e":17,"m":16.5,"c":15},{"d":"2008-11-13","s":17,"e":18,"m":17.5,"c":15},{"d":"2008-11-13","s":18,"e":19,"m":18.5,"c":15},{"d":"2008-11-13","s":19,"e":20,"m":19.5,"c":15},{"d":"2008-11-13","s":20,"e":20.6,"m":20.3,"c":3},{"d":"2008-11-13","s":20.6,"e":21,"m":20.8,"c":15},{"d":"2008-11-13","s":21,"e":22,"m":21.5,"c":3},{"d":"2008-11-13","s":22,"e":23,"m":22.5,"c":3},{"d":"2008-11-13","s":23,"e":24,"m":23.5,"c":3},
{"d":"2008-11-12","s":6,"e":7,"m":6.5,"c":3},{"d":"2008-11-12","s":7,"e":8,"m":7.5,"c":3},{"d":"2008-11-12","s":8,"e":9,"m":8.5,"c":1},{"d":"2008-11-12","s":9,"e":10,"m":9.5,"c":1},{"d":"2008-11-12","s":10,"e":11,"m":10.5,"c":1},{"d":"2008-11-12","s":11,"e":12,"m":11.5,"c":1},{"d":"2008-11-12","s":12,"e":13,"m":12.5,"c":1},{"d":"2008-11-12","s":13,"e":14,"m":13.5,"c":1},{"d":"2008-11-12","s":14,"e":15,"m":14.5,"c":16},{"d":"2008-11-12","s":15,"e":16,"m":15.5,"c":1},{"d":"2008-11-12","s":16,"e":17,"m":16.5,"c":1},{"d":"2008-11-12","s":17,"e":18,"m":17.5,"c":1},{"d":"2008-11-12","s":18,"e":19,"m":18.5,"c":1},{"d":"2008-11-12","s":19,"e":20,"m":19.5,"c":1},{"d":"2008-11-12","s":20,"e":21,"m":20.5,"c":1},{"d":"2008-11-12","s":21,"e":22,"m":21.5,"c":3},{"d":"2008-11-12","s":22,"e":23,"m":22.5,"c":3},{"d":"2008-11-12","s":23,"e":24,"m":23.5,"c":3},
{"d":"2008-11-11","s":0,"e":1,"m":0.5,"c":3},{"d":"2008-11-11","s":1,"e":2,"m":1.5,"c":3},{"d":"2008-11-11","s":2,"e":3,"m":2.5,"c":3},{"d":"2008-11-11","s":3,"e":4,"m":3.5,"c":3},{"d":"2008-11-11","s":4,"e":5,"m":4.5,"c":3},{"d":"2008-11-11","s":5,"e":6,"m":5.5,"c":3},{"d":"2008-11-11","s":6,"e":7,"m":6.5,"c":3},{"d":"2008-11-11","s":7,"e":8,"m":7.5,"c":3},{"d":"2008-11-11","s":8,"e":9,"m":8.5,"c":1},{"d":"2008-11-11","s":9,"e":10,"m":9.5,"c":1},{"d":"2008-11-11","s":10,"e":11,"m":10.5,"c":1},{"d":"2008-11-11","s":11,"e":12,"m":11.5,"c":1},{"d":"2008-11-11","s":12,"e":13,"m":12.5,"c":1},{"d":"2008-11-11","s":13,"e":14,"m":13.5,"c":1},{"d":"2008-11-11","s":14,"e":15,"m":14.5,"c":1},{"d":"2008-11-11","s":15,"e":16,"m":15.5,"c":1},{"d":"2008-11-11","s":16,"e":17,"m":16.5,"c":1},{"d":"2008-11-11","s":17,"e":18,"m":17.5,"c":1},{"d":"2008-11-11","s":18,"e":19,"m":18.5,"c":1},{"d":"2008-11-11","s":19,"e":20,"m":19.5,"c":1},{"d":"2008-11-11","s":20,"e":21,"m":20.5,"c":31},
{"d":"2008-11-10","s":0,"e":1,"m":0.5,"c":3},{"d":"2008-11-10","s":1,"e":2,"m":1.5,"c":3},{"d":"2008-11-10","s":2,"e":3,"m":2.5,"c":3},{"d":"2008-11-10","s":3,"e":4,"m":3.5,"c":3},{"d":"2008-11-10","s":4,"e":5,"m":4.5,"c":3},{"d":"2008-11-10","s":5,"e":6,"m":5.5,"c":3},{"d":"2008-11-10","s":6,"e":7,"m":6.5,"c":3},{"d":"2008-11-10","s":7,"e":8,"m":7.5,"c":3},{"d":"2008-11-10","s":8,"e":9,"m":8.5,"c":3},{"d":"2008-11-10","s":9,"e":10,"m":9.5,"c":3},{"d":"2008-11-10","s":10,"e":11,"m":10.5,"c":3},{"d":"2008-11-10","s":11,"e":12,"m":11.5,"c":3},{"d":"2008-11-10","s":12,"e":13,"m":12.5,"c":3},{"d":"2008-11-10","s":13,"e":14,"m":13.5,"c":3},{"d":"2008-11-10","s":14,"e":15,"m":14.5,"c":3},{"d":"2008-11-10","s":15,"e":16,"m":15.5,"c":3},{"d":"2008-11-10","s":16,"e":17,"m":16.5,"c":3},{"d":"2008-11-10","s":17,"e":18,"m":17.5,"c":3},{"d":"2008-11-10","s":18,"e":19,"m":18.5,"c":3},{"d":"2008-11-10","s":19,"e":20,"m":19.5,"c":3},{"d":"2008-11-10","s":20,"e":21,"m":20.5,"c":3},{"d":"2008-11-10","s":21,"e":22,"m":21.5,"c":3},{"d":"2008-11-10","s":22,"e":23,"m":22.5,"c":3},{"d":"2008-11-10","s":23,"e":24,"m":23.5,"c":3},
{"d":"2008-11-09","s":0,"e":1,"m":0.5,"c":3},{"d":"2008-11-09","s":1,"e":2,"m":1.5,"c":3},{"d":"2008-11-09","s":2,"e":3,"m":2.5,"c":3},{"d":"2008-11-09","s":3,"e":4,"m":3.5,"c":3},{"d":"2008-11-09","s":4,"e":5,"m":4.5,"c":3},{"d":"2008-11-09","s":5,"e":6,"m":5.5,"c":3},{"d":"2008-11-09","s":6,"e":7,"m":6.5,"c":3},{"d":"2008-11-09","s":7,"e":8,"m":7.5,"c":3},{"d":"2008-11-09","s":8,"e":9,"m":8.5,"c":3},{"d":"2008-11-09","s":9,"e":10,"m":9.5,"c":3},{"d":"2008-11-09","s":10,"e":11,"m":10.5,"c":3},{"d":"2008-11-09","s":11,"e":12,"m":11.5,"c":3},{"d":"2008-11-09","s":13,"e":14,"m":13.5,"c":30},{"d":"2008-11-09","s":14,"e":15,"m":14.5,"c":30},{"d":"2008-11-09","s":15,"e":16,"m":15.5,"c":30},{"d":"2008-11-09","s":16,"e":17,"m":16.5,"c":30},{"d":"2008-11-09","s":17,"e":18,"m":17.5,"c":3},{"d":"2008-11-09","s":18,"e":19,"m":18.5,"c":3},{"d":"2008-11-09","s":19,"e":20,"m":19.5,"c":3},{"d":"2008-11-09","s":20,"e":21,"m":20.5,"c":3},{"d":"2008-11-09","s":21,"e":22,"m":21.5,"c":3},{"d":"2008-11-09","s":22,"e":23,"m":22.5,"c":3},{"d":"2008-11-09","s":23,"e":24,"m":23.5,"c":3},
{"d":"2008-11-08","s":0,"e":0.2,"m":0.1,"c":1},{"d":"2008-11-08","s":0.2,"e":1,"m":0.6,"c":27},{"d":"2008-11-08","s":1,"e":2,"m":1.5,"c":3},{"d":"2008-11-08","s":2,"e":3,"m":2.5,"c":3},{"d":"2008-11-08","s":3,"e":4,"m":3.5,"c":3},{"d":"2008-11-08","s":4,"e":5,"m":4.5,"c":3},{"d":"2008-11-08","s":5,"e":6,"m":5.5,"c":3},{"d":"2008-11-08","s":6,"e":7,"m":6.5,"c":3},{"d":"2008-11-08","s":7,"e":8,"m":7.5,"c":3},{"d":"2008-11-08","s":8,"e":9,"m":8.5,"c":3},{"d":"2008-11-08","s":9,"e":10,"m":9.5,"c":3},{"d":"2008-11-08","s":10,"e":11,"m":10.5,"c":3},{"d":"2008-11-08","s":11,"e":12,"m":11.5,"c":3},{"d":"2008-11-08","s":12,"e":13,"m":12.5,"c":14},{"d":"2008-11-08","s":13,"e":14,"m":13.5,"c":14},{"d":"2008-11-08","s":14,"e":15,"m":14.5,"c":26},{"d":"2008-11-08","s":15,"e":15.15,"m":15.08,"c":26},{"d":"2008-11-08","s":15.15,"e":16,"m":15.58,"c":28},{"d":"2008-11-08","s":16,"e":17,"m":16.5,"c":28},{"d":"2008-11-08","s":17,"e":18,"m":17.5,"c":28},{"d":"2008-11-08","s":18,"e":19,"m":18.5,"c":29},{"d":"2008-11-08","s":19,"e":20,"m":19.5,"c":3},{"d":"2008-11-08","s":20,"e":21,"m":20.5,"c":3},{"d":"2008-11-08","s":21,"e":22,"m":21.5,"c":3},{"d":"2008-11-08","s":22,"e":23,"m":22.5,"c":3},{"d":"2008-11-08","s":23,"e":24,"m":23.5,"c":3},
{"d":"2008-11-07","s":0,"e":1,"m":0.5,"c":3},{"d":"2008-11-07","s":1,"e":2,"m":1.5,"c":3},{"d":"2008-11-07","s":2,"e":3,"m":2.5,"c":3},{"d":"2008-11-07","s":3,"e":4,"m":3.5,"c":3},{"d":"2008-11-07","s":4,"e":5,"m":4.5,"c":3},{"d":"2008-11-07","s":5,"e":6,"m":5.5,"c":3},{"d":"2008-11-07","s":6,"e":7,"m":6.5,"c":3},{"d":"2008-11-07","s":7,"e":8,"m":7.5,"c":3},{"d":"2008-11-07","s":8,"e":9,"m":8.5,"c":1},{"d":"2008-11-07","s":9,"e":10,"m":9.5,"c":1},{"d":"2008-11-07","s":10,"e":11,"m":10.5,"c":1},{"d":"2008-11-07","s":11,"e":12,"m":11.5,"c":1},{"d":"2008-11-07","s":12,"e":12.45,"m":12.23,"c":1},{"d":"2008-11-07","s":12.45,"e":13,"m":12.73,"c":15},{"d":"2008-11-07","s":13,"e":14,"m":13.5,"c":1},{"d":"2008-11-07","s":14,"e":15,"m":14.5,"c":1},{"d":"2008-11-07","s":15,"e":16,"m":15.5,"c":1},{"d":"2008-11-07","s":16,"e":17,"m":16.5,"c":1},{"d":"2008-11-07","s":17,"e":18,"m":17.5,"c":1},{"d":"2008-11-07","s":18,"e":19,"m":18.5,"c":1},{"d":"2008-11-07","s":19,"e":20,"m":19.5,"c":25},{"d":"2008-11-07","s":20,"e":21,"m":20.5,"c":25},{"d":"2008-11-07","s":21,"e":22,"m":21.5,"c":25},{"d":"2008-11-07","s":22,"e":23,"m":22.5,"c":1},{"d":"2008-11-07","s":23,"e":24,"m":23.5,"c":1},
{"d":"2008-11-06","s":0,"e":1,"m":0.5,"c":3},{"d":"2008-11-06","s":1,"e":2,"m":1.5,"c":3},{"d":"2008-11-06","s":2,"e":3,"m":2.5,"c":3},{"d":"2008-11-06","s":3,"e":4,"m":3.5,"c":3},{"d":"2008-11-06","s":4,"e":5,"m":4.5,"c":3},{"d":"2008-11-06","s":5,"e":6,"m":5.5,"c":3},{"d":"2008-11-06","s":6,"e":7,"m":6.5,"c":3},{"d":"2008-11-06","s":7,"e":8,"m":7.5,"c":3},{"d":"2008-11-06","s":8,"e":9,"m":8.5,"c":1},{"d":"2008-11-06","s":12,"e":13,"m":12.5,"c":16},{"d":"2008-11-06","s":13,"e":13.5,"m":13.25,"c":1},{"d":"2008-11-06","s":13.5,"e":14,"m":13.75,"c":16},{"d":"2008-11-06","s":14,"e":15,"m":14.5,"c":1},{"d":"2008-11-06","s":15,"e":16,"m":15.5,"c":1},{"d":"2008-11-06","s":16,"e":17,"m":16.5,"c":1},{"d":"2008-11-06","s":17,"e":18,"m":17.5,"c":1},{"d":"2008-11-06","s":18,"e":19,"m":18.5,"c":1},{"d":"2008-11-06","s":19,"e":20,"m":19.5,"c":1},{"d":"2008-11-06","s":20,"e":21,"m":20.5,"c":1},{"d":"2008-11-06","s":21,"e":22,"m":21.5,"c":1},{"d":"2008-11-06","s":22,"e":23,"m":22.5,"c":3},{"d":"2008-11-06","s":23,"e":24,"m":23.5,"c":3},
{"d":"2008-11-05","s":0,"e":1,"m":0.5,"c":3},{"d":"2008-11-05","s":1,"e":2,"m":1.5,"c":3},{"d":"2008-11-05","s":2,"e":3,"m":2.5,"c":3},{"d":"2008-11-05","s":3,"e":4,"m":3.5,"c":3},{"d":"2008-11-05","s":4,"e":5,"m":4.5,"c":3},{"d":"2008-11-05","s":5,"e":6,"m":5.5,"c":3},{"d":"2008-11-05","s":6,"e":7,"m":6.5,"c":3},{"d":"2008-11-05","s":7,"e":8,"m":7.5,"c":3},{"d":"2008-11-05","s":8,"e":9,"m":8.5,"c":1},{"d":"2008-11-05","s":9,"e":10,"m":9.5,"c":1},{"d":"2008-11-05","s":10,"e":11,"m":10.5,"c":1},{"d":"2008-11-05","s":11,"e":12,"m":11.5,"c":1},{"d":"2008-11-05","s":12,"e":13,"m":12.5,"c":1},{"d":"2008-11-05","s":13,"e":14,"m":13.5,"c":1},{"d":"2008-11-05","s":14,"e":15,"m":14.5,"c":1},{"d":"2008-11-05","s":15,"e":16,"m":15.5,"c":1},{"d":"2008-11-05","s":16,"e":17,"m":16.5,"c":1},{"d":"2008-11-05","s":17,"e":18,"m":17.5,"c":1},{"d":"2008-11-05","s":18,"e":19,"m":18.5,"c":1},{"d":"2008-11-05","s":19,"e":19.1,"m":19.05,"c":1},{"d":"2008-11-05","s":19.1,"e":20,"m":19.55,"c":20},{"d":"2008-11-05","s":20,"e":21,"m":20.5,"c":3},{"d":"2008-11-05","s":21,"e":22,"m":21.5,"c":3},{"d":"2008-11-05","s":22,"e":23,"m":22.5,"c":3},{"d":"2008-11-05","s":23,"e":24,"m":23.5,"c":3},
{"d":"2008-11-04","s":0,"e":1,"m":0.5,"c":3},{"d":"2008-11-04","s":1,"e":2,"m":1.5,"c":3},{"d":"2008-11-04","s":2,"e":3,"m":2.5,"c":3},{"d":"2008-11-04","s":3,"e":4,"m":3.5,"c":3},{"d":"2008-11-04","s":4,"e":5,"m":4.5,"c":3},{"d":"2008-11-04","s":5,"e":6,"m":5.5,"c":3},{"d":"2008-11-04","s":6,"e":7,"m":6.5,"c":3},{"d":"2008-11-04","s":7,"e":8,"m":7.5,"c":3},{"d":"2008-11-04","s":8,"e":9,"m":8.5,"c":1},{"d":"2008-11-04","s":9,"e":10,"m":9.5,"c":1},{"d":"2008-11-04","s":10,"e":11,"m":10.5,"c":1},{"d":"2008-11-04","s":11,"e":12,"m":11.5,"c":1},{"d":"2008-11-04","s":12,"e":13,"m":12.5,"c":1},{"d":"2008-11-04","s":13,"e":14,"m":13.5,"c":1},{"d":"2008-11-04","s":14,"e":14.2,"m":14.1,"c":1},{"d":"2008-11-04","s":14.2,"e":15,"m":14.6,"c":16},{"d":"2008-11-04","s":15,"e":16,"m":15.5,"c":1},{"d":"2008-11-04","s":16,"e":17,"m":16.5,"c":1},{"d":"2008-11-04","s":17,"e":17.6,"m":17.3,"c":1},{"d":"2008-11-04","s":17.6,"e":18,"m":17.8,"c":13},{"d":"2008-11-04","s":18,"e":19,"m":18.5,"c":13},{"d":"2008-11-04","s":19,"e":20,"m":19.5,"c":13},{"d":"2008-11-04","s":20,"e":20.3,"m":20.15,"c":1},{"d":"2008-11-04","s":20.3,"e":21,"m":20.65,"c":13},{"d":"2008-11-04","s":21,"e":22,"m":21.5,"c":15},{"d":"2008-11-04","s":22,"e":23,"m":22.5,"c":3},{"d":"2008-11-04","s":23,"e":24,"m":23.5,"c":3},
{"d":"2008-11-03","s":0,"e":1,"m":0.5,"c":3},{"d":"2008-11-03","s":1,"e":2,"m":1.5,"c":3},{"d":"2008-11-03","s":2,"e":3,"m":2.5,"c":3},{"d":"2008-11-03","s":3,"e":4,"m":3.5,"c":3},{"d":"2008-11-03","s":4,"e":5,"m":4.5,"c":3},{"d":"2008-11-03","s":5,"e":6,"m":5.5,"c":3},{"d":"2008-11-03","s":6,"e":7,"m":6.5,"c":3},{"d":"2008-11-03","s":7,"e":8,"m":7.5,"c":3},{"d":"2008-11-03","s":8,"e":8.55,"m":8.28,"c":1},{"d":"2008-11-03","s":8.55,"e":9,"m":8.78,"c":3},{"d":"2008-11-03","s":9,"e":10,"m":9.5,"c":1},{"d":"2008-11-03","s":10,"e":11,"m":10.5,"c":1},{"d":"2008-11-03","s":11,"e":12,"m":11.5,"c":1},{"d":"2008-11-03","s":12,"e":13,"m":12.5,"c":1},{"d":"2008-11-03","s":13,"e":14,"m":13.5,"c":1},{"d":"2008-11-03","s":14,"e":15,"m":14.5,"c":1},{"d":"2008-11-03","s":15,"e":16,"m":15.5,"c":1},{"d":"2008-11-03","s":16,"e":17,"m":16.5,"c":1},{"d":"2008-11-03","s":17,"e":18,"m":17.5,"c":1},{"d":"2008-11-03","s":18,"e":19,"m":18.5,"c":1},{"d":"2008-11-03","s":19,"e":20,"m":19.5,"c":1},{"d":"2008-11-03","s":20,"e":21,"m":20.5,"c":1},{"d":"2008-11-03","s":21,"e":22,"m":21.5,"c":1},{"d":"2008-11-03","s":22,"e":23,"m":22.5,"c":3},{"d":"2008-11-03","s":23,"e":24,"m":23.5,"c":3},
{"d":"2008-11-02","s":10,"e":11,"m":10.5,"c":3},{"d":"2008-11-02","s":11,"e":12,"m":11.5,"c":3},{"d":"2008-11-02","s":12,"e":13,"m":12.5,"c":3},{"d":"2008-11-02","s":13,"e":14,"m":13.5,"c":3},{"d":"2008-11-02","s":14,"e":15,"m":14.5,"c":3},{"d":"2008-11-02","s":15,"e":16,"m":15.5,"c":21},{"d":"2008-11-02","s":16,"e":17,"m":16.5,"c":21},{"d":"2008-11-02","s":17,"e":18,"m":17.5,"c":21},{"d":"2008-11-02","s":18,"e":19,"m":18.5,"c":22},{"d":"2008-11-02","s":19,"e":20,"m":19.5,"c":23},{"d":"2008-11-02","s":20,"e":20.1,"m":20.05,"c":23},{"d":"2008-11-02","s":20.1,"e":21,"m":20.55,"c":24},{"d":"2008-11-02","s":21,"e":22,"m":21.5,"c":3},{"d":"2008-11-02","s":22,"e":23,"m":22.5,"c":3},{"d":"2008-11-02","s":23,"e":24,"m":23.5,"c":3},
{"d":"2008-11-01","s":7,"e":8,"m":7.5,"c":3},{"d":"2008-11-01","s":8,"e":9,"m":8.5,"c":3},{"d":"2008-11-01","s":9,"e":9.3,"m":9.15,"c":11},{"d":"2008-11-01","s":9.3,"e":10,"m":9.65,"c":18},{"d":"2008-11-01","s":10,"e":11,"m":10.5,"c":11},{"d":"2008-11-01","s":11,"e":12,"m":11.5,"c":11},{"d":"2008-11-01","s":12,"e":13,"m":12.5,"c":3},{"d":"2008-11-01","s":13,"e":14,"m":13.5,"c":3},{"d":"2008-11-01","s":15,"e":15.45,"m":15.23,"c":19},{"d":"2008-11-01","s":15.45,"e":16,"m":15.73,"c":20},{"d":"2008-11-01","s":16,"e":16.85,"m":16.43,"c":1},{"d":"2008-11-01","s":16.85,"e":17,"m":16.93,"c":20},
{"d":"2008-10-31","s":0,"e":1,"m":0.5,"c":3},{"d":"2008-10-31","s":1,"e":2,"m":1.5,"c":3},{"d":"2008-10-31","s":2,"e":3,"m":2.5,"c":3},{"d":"2008-10-31","s":3,"e":4,"m":3.5,"c":3},{"d":"2008-10-31","s":4,"e":5,"m":4.5,"c":3},{"d":"2008-10-31","s":5,"e":6,"m":5.5,"c":3},{"d":"2008-10-31","s":6,"e":7,"m":6.5,"c":3},{"d":"2008-10-31","s":7,"e":8,"m":7.5,"c":3},{"d":"2008-10-31","s":8,"e":9,"m":8.5,"c":1},{"d":"2008-10-31","s":9,"e":10,"m":9.5,"c":1},{"d":"2008-10-31","s":10,"e":11,"m":10.5,"c":1},{"d":"2008-10-31","s":11,"e":12,"m":11.5,"c":17},{"d":"2008-10-31","s":12,"e":13,"m":12.5,"c":17},{"d":"2008-10-31","s":13,"e":14,"m":13.5,"c":17},{"d":"2008-10-31","s":14,"e":14.5,"m":14.25,"c":1},{"d":"2008-10-31","s":14.5,"e":15,"m":14.75,"c":17},{"d":"2008-10-31","s":15,"e":16,"m":15.5,"c":1},{"d":"2008-10-31","s":16,"e":17,"m":16.5,"c":1},
{"d":"2008-10-30","s":0,"e":1,"m":0.5,"c":3},{"d":"2008-10-30","s":1,"e":2,"m":1.5,"c":3},{"d":"2008-10-30","s":2,"e":3,"m":2.5,"c":3},{"d":"2008-10-30","s":3,"e":4,"m":3.5,"c":3},{"d":"2008-10-30","s":4,"e":5,"m":4.5,"c":3},{"d":"2008-10-30","s":5,"e":6,"m":5.5,"c":3},{"d":"2008-10-30","s":6,"e":7,"m":6.5,"c":3},{"d":"2008-10-30","s":7,"e":8,"m":7.5,"c":3},{"d":"2008-10-30","s":8,"e":9,"m":8.5,"c":1},{"d":"2008-10-30","s":9,"e":10,"m":9.5,"c":1},{"d":"2008-10-30","s":10,"e":11,"m":10.5,"c":1},{"d":"2008-10-30","s":11,"e":12,"m":11.5,"c":1},{"d":"2008-10-30","s":12,"e":13,"m":12.5,"c":1},{"d":"2008-10-30","s":13,"e":14,"m":13.5,"c":4},{"d":"2008-10-30","s":14,"e":14.45,"m":14.23,"c":4},{"d":"2008-10-30","s":14.45,"e":15,"m":14.73,"c":16},{"d":"2008-10-30","s":15,"e":16,"m":15.5,"c":16},{"d":"2008-10-30","s":16,"e":16.8,"m":16.4,"c":1},{"d":"2008-10-30","s":16.8,"e":17,"m":16.9,"c":16},{"d":"2008-10-30","s":17,"e":18,"m":17.5,"c":1},{"d":"2008-10-30","s":18,"e":19,"m":18.5,"c":1},{"d":"2008-10-30","s":19,"e":20,"m":19.5,"c":1},{"d":"2008-10-30","s":20,"e":21,"m":20.5,"c":1},{"d":"2008-10-30","s":21,"e":21.6,"m":21.3,"c":1},{"d":"2008-10-30","s":21.6,"e":22,"m":21.8,"c":3},{"d":"2008-10-30","s":22,"e":23,"m":22.5,"c":3},{"d":"2008-10-30","s":23,"e":24,"m":23.5,"c":3},
{"d":"2008-10-29","s":0,"e":1,"m":0.5,"c":3},{"d":"2008-10-29","s":1,"e":2,"m":1.5,"c":3},{"d":"2008-10-29","s":2,"e":3,"m":2.5,"c":3},{"d":"2008-10-29","s":3,"e":4,"m":3.5,"c":3},{"d":"2008-10-29","s":4,"e":5,"m":4.5,"c":3},{"d":"2008-10-29","s":5,"e":6,"m":5.5,"c":3},{"d":"2008-10-29","s":6,"e":7,"m":6.5,"c":3},{"d":"2008-10-29","s":7,"e":8,"m":7.5,"c":3},{"d":"2008-10-29","s":8,"e":9,"m":8.5,"c":1},{"d":"2008-10-29","s":9,"e":10,"m":9.5,"c":1},{"d":"2008-10-29","s":10,"e":11,"m":10.5,"c":1},{"d":"2008-10-29","s":11,"e":12,"m":11.5,"c":1},{"d":"2008-10-29","s":12,"e":13,"m":12.5,"c":1},{"d":"2008-10-29","s":13,"e":14,"m":13.5,"c":1},{"d":"2008-10-29","s":14,"e":15,"m":14.5,"c":1},{"d":"2008-10-29","s":15,"e":16,"m":15.5,"c":1},{"d":"2008-10-29","s":16,"e":17,"m":16.5,"c":1},{"d":"2008-10-29","s":17,"e":18,"m":17.5,"c":1},{"d":"2008-10-29","s":18,"e":19,"m":18.5,"c":1},{"d":"2008-10-29","s":19,"e":19.3,"m":19.15,"c":1},{"d":"2008-10-29","s":19.3,"e":20,"m":19.65,"c":3},{"d":"2008-10-29","s":20,"e":21,"m":20.5,"c":3},{"d":"2008-10-29","s":21,"e":22,"m":21.5,"c":3},{"d":"2008-10-29","s":22,"e":23,"m":22.5,"c":3},{"d":"2008-10-29","s":23,"e":24,"m":23.5,"c":3},
{"d":"2008-10-28","s":0,"e":1,"m":0.5,"c":3},{"d":"2008-10-28","s":1,"e":2,"m":1.5,"c":3},{"d":"2008-10-28","s":2,"e":3,"m":2.5,"c":3},{"d":"2008-10-28","s":3,"e":4,"m":3.5,"c":3},{"d":"2008-10-28","s":4,"e":5,"m":4.5,"c":3},{"d":"2008-10-28","s":5,"e":6,"m":5.5,"c":3},{"d":"2008-10-28","s":6,"e":7,"m":6.5,"c":3},{"d":"2008-10-28","s":7,"e":8,"m":7.5,"c":3},{"d":"2008-10-28","s":8,"e":9,"m":8.5,"c":1},{"d":"2008-10-28","s":9,"e":10,"m":9.5,"c":1},{"d":"2008-10-28","s":10,"e":11,"m":10.5,"c":1},{"d":"2008-10-28","s":11,"e":12,"m":11.5,"c":1},{"d":"2008-10-28","s":12,"e":13,"m":12.5,"c":1},{"d":"2008-10-28","s":13,"e":14,"m":13.5,"c":1},{"d":"2008-10-28","s":14,"e":15,"m":14.5,"c":1},{"d":"2008-10-28","s":15,"e":16,"m":15.5,"c":1},{"d":"2008-10-28","s":16,"e":17,"m":16.5,"c":1},{"d":"2008-10-28","s":17,"e":18,"m":17.5,"c":1},{"d":"2008-10-28","s":18,"e":18.5,"m":18.25,"c":1},{"d":"2008-10-28","s":18.5,"e":19,"m":18.75,"c":15},{"d":"2008-10-28","s":19,"e":20,"m":19.5,"c":4},{"d":"2008-10-28","s":20,"e":20.1,"m":20.05,"c":4},{"d":"2008-10-28","s":20.1,"e":20.8,"m":20.45,"c":14},{"d":"2008-10-28","s":20.8,"e":21,"m":20.9,"c":3},{"d":"2008-10-28","s":21,"e":21.35,"m":21.18,"c":3},{"d":"2008-10-28","s":21.35,"e":22,"m":21.68,"c":14},{"d":"2008-10-28","s":22,"e":23,"m":22.5,"c":3},{"d":"2008-10-28","s":23,"e":24,"m":23.5,"c":3},
{"d":"2008-10-27","s":0,"e":1,"m":0.5,"c":3},{"d":"2008-10-27","s":1,"e":2,"m":1.5,"c":3},{"d":"2008-10-27","s":2,"e":3,"m":2.5,"c":3},{"d":"2008-10-27","s":3,"e":4,"m":3.5,"c":3},{"d":"2008-10-27","s":4,"e":5,"m":4.5,"c":3},{"d":"2008-10-27","s":5,"e":6,"m":5.5,"c":3},{"d":"2008-10-27","s":6,"e":7,"m":6.5,"c":3},{"d":"2008-10-27","s":7,"e":8,"m":7.5,"c":3},{"d":"2008-10-27","s":8,"e":9,"m":8.5,"c":1},{"d":"2008-10-27","s":9,"e":10,"m":9.5,"c":1},{"d":"2008-10-27","s":10,"e":11,"m":10.5,"c":1},{"d":"2008-10-27","s":11,"e":12,"m":11.5,"c":1},{"d":"2008-10-27","s":12,"e":13,"m":12.5,"c":1},{"d":"2008-10-27","s":13,"e":14,"m":13.5,"c":1},{"d":"2008-10-27","s":14,"e":15,"m":14.5,"c":1},{"d":"2008-10-27","s":15,"e":16,"m":15.5,"c":1},{"d":"2008-10-27","s":16,"e":17,"m":16.5,"c":1},{"d":"2008-10-27","s":17,"e":18,"m":17.5,"c":1},{"d":"2008-10-27","s":18,"e":19,"m":18.5,"c":1},{"d":"2008-10-27","s":19,"e":20,"m":19.5,"c":1},{"d":"2008-10-27","s":20,"e":21,"m":20.5,"c":3},{"d":"2008-10-27","s":21,"e":22,"m":21.5,"c":3},{"d":"2008-10-27","s":22,"e":23,"m":22.5,"c":3},{"d":"2008-10-27","s":23,"e":24,"m":23.5,"c":3},
{"d":"2008-10-26","s":0,"e":1,"m":0.5,"c":3},{"d":"2008-10-26","s":1,"e":2,"m":1.5,"c":3},{"d":"2008-10-26","s":2,"e":3,"m":2.5,"c":3},{"d":"2008-10-26","s":3,"e":4,"m":3.5,"c":3},{"d":"2008-10-26","s":4,"e":5,"m":4.5,"c":3},{"d":"2008-10-26","s":5,"e":6,"m":5.5,"c":3},{"d":"2008-10-26","s":6,"e":7,"m":6.5,"c":3},{"d":"2008-10-26","s":7,"e":8,"m":7.5,"c":3},{"d":"2008-10-26","s":8,"e":9,"m":8.5,"c":11},{"d":"2008-10-26","s":9,"e":10,"m":9.5,"c":11},{"d":"2008-10-26","s":10,"e":11,"m":10.5,"c":11},{"d":"2008-10-26","s":11,"e":12,"m":11.5,"c":12},{"d":"2008-10-26","s":12,"e":13,"m":12.5,"c":12},{"d":"2008-10-26","s":13,"e":14,"m":13.5,"c":12},{"d":"2008-10-26","s":14,"e":15,"m":14.5,"c":12},{"d":"2008-10-26","s":15,"e":15.6,"m":15.3,"c":1},{"d":"2008-10-26","s":15.6,"e":16,"m":15.8,"c":13},{"d":"2008-10-26","s":16,"e":16.2,"m":16.1,"c":3},{"d":"2008-10-26","s":16.2,"e":17,"m":16.6,"c":13},{"d":"2008-10-26","s":17,"e":18,"m":17.5,"c":3},{"d":"2008-10-26","s":18,"e":19,"m":18.5,"c":3},{"d":"2008-10-26","s":19,"e":20,"m":19.5,"c":3},{"d":"2008-10-26","s":20,"e":21,"m":20.5,"c":3},{"d":"2008-10-26","s":21,"e":22,"m":21.5,"c":3},{"d":"2008-10-26","s":22,"e":23,"m":22.5,"c":3},{"d":"2008-10-26","s":23,"e":24,"m":23.5,"c":3},
{"d":"2008-10-25","s":6,"e":7,"m":6.5,"c":3},{"d":"2008-10-25","s":7,"e":8,"m":7.5,"c":3},{"d":"2008-10-25","s":11,"e":12,"m":11.5,"c":6},{"d":"2008-10-25","s":12,"e":12.5,"m":12.25,"c":7},{"d":"2008-10-25","s":12.5,"e":13,"m":12.75,"c":7},{"d":"2008-10-25","s":13,"e":13.7,"m":13.35,"c":8},{"d":"2008-10-25","s":13.7,"e":14,"m":13.85,"c":9},{"d":"2008-10-25","s":14,"e":15,"m":14.5,"c":9},{"d":"2008-10-25","s":16,"e":17,"m":16.5,"c":10},{"d":"2008-10-25","s":17,"e":18,"m":17.5,"c":10},{"d":"2008-10-25","s":19,"e":20,"m":19.5,"c":3},{"d":"2008-10-25","s":20,"e":21,"m":20.5,"c":3},{"d":"2008-10-25","s":21,"e":22,"m":21.5,"c":3},{"d":"2008-10-25","s":22,"e":23,"m":22.5,"c":3},{"d":"2008-10-25","s":23,"e":24,"m":23.5,"c":3},
{"d":"2008-10-24","s":0,"e":1,"m":0.5,"c":3},{"d":"2008-10-24","s":1,"e":2,"m":1.5,"c":3},{"d":"2008-10-24","s":2,"e":3,"m":2.5,"c":3},{"d":"2008-10-24","s":3,"e":4,"m":3.5,"c":3},{"d":"2008-10-24","s":4,"e":5,"m":4.5,"c":3},{"d":"2008-10-24","s":5,"e":6,"m":5.5,"c":3},{"d":"2008-10-24","s":6,"e":7,"m":6.5,"c":3},{"d":"2008-10-24","s":7,"e":8,"m":7.5,"c":3},{"d":"2008-10-24","s":8,"e":9,"m":8.5,"c":1},{"d":"2008-10-24","s":9,"e":9.7,"m":9.35,"c":1},{"d":"2008-10-24","s":9.7,"e":10,"m":9.85,"c":4},{"d":"2008-10-24","s":10,"e":11,"m":10.5,"c":4},{"d":"2008-10-24","s":11,"e":11.3,"m":11.15,"c":4},{"d":"2008-10-24","s":11.3,"e":12,"m":11.65,"c":5},{"d":"2008-10-24","s":12,"e":13,"m":12.5,"c":1},{"d":"2008-10-24","s":13,"e":14,"m":13.5,"c":1},{"d":"2008-10-24","s":14,"e":15,"m":14.5,"c":1},{"d":"2008-10-24","s":15,"e":16,"m":15.5,"c":1},
{"d":"2008-10-23","s":14,"e":15,"m":14.5,"c":1},{"d":"2008-10-23","s":17,"e":18,"m":17.5,"c":2},{"d":"2008-10-23","s":18,"e":19,"m":18.5,"c":2},{"d":"2008-10-23","s":19,"e":20,"m":19.5,"c":3},{"d":"2008-10-23","s":20,"e":21,"m":20.5,"c":3},{"d":"2008-10-23","s":21,"e":22,"m":21.5,"c":3},{"d":"2008-10-23","s":22,"e":23,"m":22.5,"c":3},{"d":"2008-10-23","s":23,"e":24,"m":23.5,"c":3}
],
"hours": [{"h":1},{"h":2},{"h":3},{"h":4},{"h":5},{"h":6},{"h":7},{"h":8},{"h":9},{"h":10},{"h":11},{"h":12},{"h":13},{"h":14},{"h":15},{"h":16},{"h":17},{"h":18},{"h":19},{"h":20},{"h":21},{"h":22},{"h":23}],
"days": [{"d":"2008-10-24"},{"d":"2008-10-25"},{"d":"2008-10-26"},{"d":"2008-10-27"},{"d":"2008-10-28"},{"d":"2008-10-29"},{"d":"2008-10-30"},{"d":"2008-10-31"},{"d":"2008-11-01"},{"d":"2008-11-02"},{"d":"2008-11-03"},{"d":"2008-11-04"},{"d":"2008-11-05"},{"d":"2008-11-06"},{"d":"2008-11-07"},{"d":"2008-11-08"},{"d":"2008-11-09"},{"d":"2008-11-10"},{"d":"2008-11-11"},{"d":"2008-11-12"},{"d":"2008-11-13"},{"d":"2008-11-14"},{"d":"2008-11-15"},{"d":"2008-11-16"},{"d":"2008-11-17"},{"d":"2008-11-18"},{"d":"2008-11-19"},{"d":"2008-11-20"},{"d":"2008-11-21"},{"d":"2008-11-22"},{"d":"2008-11-23"},{"d":"2008-11-24"},{"d":"2008-11-25"},{"d":"2008-11-26"},{"d":"2008-11-27"},{"d":"2008-11-28"},{"d":"2008-11-29"},{"d":"2008-11-30"},{"d":"2008-12-01"},{"d":"2008-12-02"},{"d":"2008-12-03"},{"d":"2008-12-04"},{"d":"2008-12-05"},{"d":"2008-12-06"},{"d":"2008-12-07"},{"d":"2008-12-08"},{"d":"2008-12-09"},{"d":"2008-12-10"},{"d":"2008-12-11"},{"d":"2008-12-12"},{"d":"2008-12-13"},{"d":"2008-12-14"}]
},
"layer": [
{"data": {"name": "chunks"}, "mark": {"type": "rect"},
 "encoding": {
  "x": {"field": "s", "type": "quantitative", "scale": {"domain": [0, 24], "nice": false, "zero": false},
        "axis": {"values": [0, 5, 10, 15, 20], "title": null, "labelPadding": 3}},
  "x2": {"field": "e"},
  "y": {"field": "d", "type": "temporal", "timeUnit": "utcyearmonthdate",
        "scale": {"type": "utc", "nice": false, "domain": [{"year": 2008, "month": 10, "date": 23, "utc": true}, {"year": 2008, "month": 12, "date": 14, "hours": 23, "minutes": 59, "seconds": 59, "utc": true}]},
        "axis": {"title": null, "format": "%Y-%m-%d", "tickCount": {"interval": "day", "step": 1}, "labelPadding": 2.5}},
  "color": {"field": "c", "type": "nominal", "legend": null,
    "scale": {"domain": [1,2,3,4,5,6,7,8,9,10,11,12,13,14,15,16,17,18,19,20,21,22,23,24,25,26,27,28,29,30,31,32,33,34,35,37,38,39,40,41,42,43,44],
              "range": ["#e5f562","#ef3b3b","#3ecc00","#b8f0e0","#00938a","#7a1e0c","#7b2f99","#d04ec4","#a9f2a9","#7a4e50","#4466b1","#1a3fb0","#f5a000","#0a97c8","#182a6b","#ef6015","#5ccbe4","#45c83a","#b86c88","#7b63d6","#a0552b","#a3a3e3","#c3d3f5","#a43fe0","#44a9d8","#838979","#f8d2ee","#f0b24e","#c9566e","#68eeb4","#89b191","#5c40f0","#a8dba2","#f48a00","#ef1f78","#86b98e","#d8b9a1","#1aa244","#c9e7a3","#f5b700","#b26a4a","#c2c97a","#00b1a1"]}}
 }},
{"data": {"name": "hours"}, "mark": {"type": "rule", "color": "#ff0000", "strokeWidth": 1},
 "encoding": {"x": {"field": "h", "type": "quantitative", "axis": {"title": null}}}},
{"data": {"name": "days"}, "mark": {"type": "rule", "color": "#ff0000", "strokeWidth": 1},
 "encoding": {"y": {"field": "d", "type": "temporal", "scale": {"type": "utc"}, "axis": {"title": null}}}},
{"data": {"name": "chunks"}, "mark": {"type": "text", "color": "#ffffff", "font": "DejaVu Sans", "fontWeight": "bold", "fontSize": 17, "align": "center", "baseline": "middle"},
 "encoding": {
  "x": {"field": "m", "type": "quantitative", "axis": {"title": null}},
  "y": {"field": "d", "type": "temporal", "timeUnit": "utcyearmonthdate", "bandPosition": 0.5, "axis": {"title": null}},
  "text": {"field": "c", "type": "nominal"}
 }},
{"data": {"name": "hours"}, "mark": {"type": "rule", "color": "#000000", "strokeWidth": 1}, "encoding": {"x": {"datum": 0, "type": "quantitative", "axis": {"title": null}}}},
{"data": {"name": "hours"}, "mark": {"type": "rule", "color": "#000000", "strokeWidth": 1}, "encoding": {"x": {"datum": 24, "type": "quantitative", "axis": {"title": null}}}},
{"data": {"name": "hours"}, "mark": {"type": "rule", "color": "#000000", "strokeWidth": 1}, "encoding": {"y": {"datum": {"year": 2008, "month": 10, "date": 23, "utc": true}, "type": "temporal", "axis": {"title": null}}}},
{"data": {"name": "hours"}, "mark": {"type": "rule", "color": "#000000", "strokeWidth": 1}, "encoding": {"y": {"datum": {"year": 2008, "month": 12, "date": 14, "hours": 23, "minutes": 59, "seconds": 59, "utc": true}, "type": "temporal", "axis": {"title": null}}}}
]
}
